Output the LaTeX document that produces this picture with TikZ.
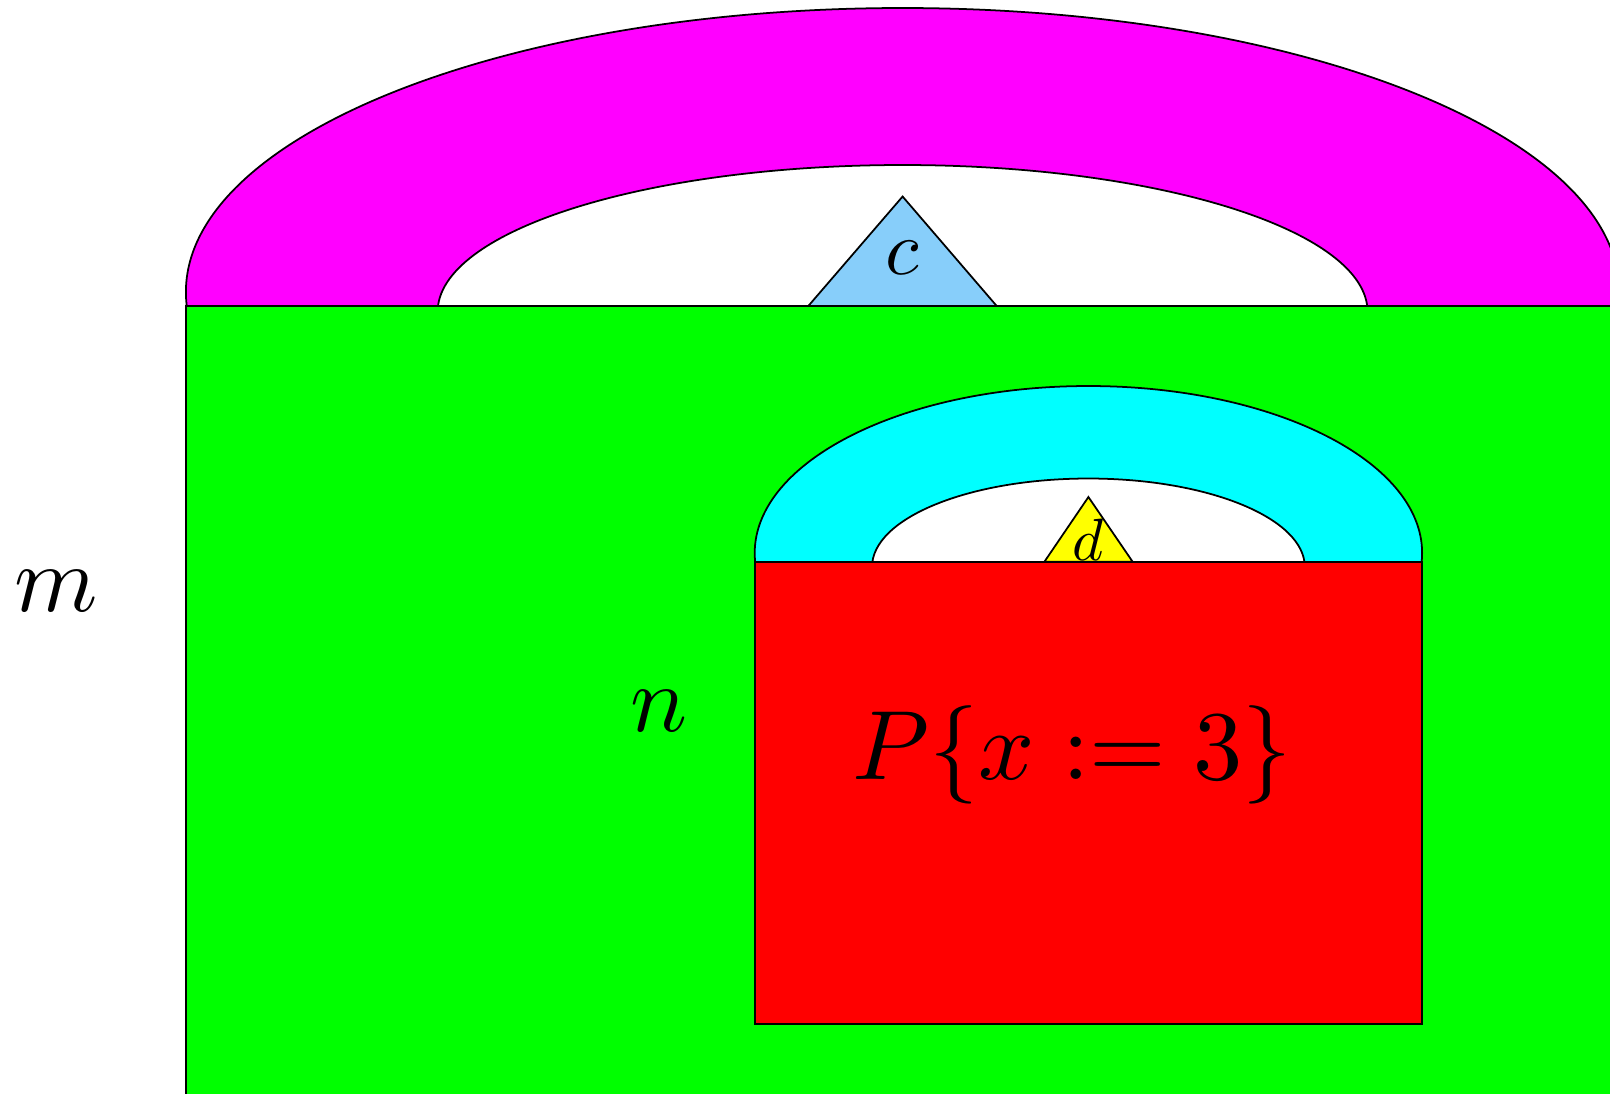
\documentclass[tikz,border=0pt]{standalone}
\usepackage{tikz}
\definecolor{bigcapcolor}{RGB}{255,0,255}
\definecolor{bigboxcolor}{RGB}{0,255,0}
\definecolor{bigtipcolor}{RGB}{135,206,250}
\definecolor{smallcapcolor}{RGB}{0,255,255}
\definecolor{smallboxcolor}{RGB}{255,0,0}
\definecolor{smalltipcolor}{RGB}{255,255,0}
\tikzset{
region/.style={
  draw=black,
  line width=0.5pt
},
hole/.style={
  region,
  fill=white
},
mathlabel/.style={
  inner sep=0pt,
  text=black
},
biglabel/.style={
  mathlabel,
  scale=2.7
}
}

\begin{document}
\begin{tikzpicture}[x=0.01cm,y=-0.01cm]
  \useasboundingbox (0,0) rectangle (1610,1093);
  \clip (0,0) rectangle (1610,1093);
  % outer cap
  \begin{scope}
    \clip (0,0) rectangle (1610,306);
    \draw[region, fill=bigcapcolor] (902.6,292) ellipse [x radius=716.7, y radius=284];
    \draw[hole] (902.6,312) ellipse [x radius=465, y radius=147];
  \end{scope}
  \draw[region, fill=bigtipcolor] (808.3,306) -- (902.6,196.5) -- (996.7,306) -- cycle;
  \draw[region, fill=bigboxcolor] (186,306) rectangle (1700,1200);
  % inner cap
  \begin{scope}
    \clip (0,0) rectangle (1610,561.7);
    \draw[region, fill=smallcapcolor] (1088.4,553) ellipse [x radius=333.7, y radius=167];
    \draw[hole] (1088.4,567) ellipse [x radius=216.4, y radius=88.5];
  \end{scope}
  \draw[region, fill=smalltipcolor] (1044.4,561.7) -- (1088.4,497) -- (1132.6,561.7) -- cycle;
  \draw[region, fill=smallboxcolor] (754.7,561.7) rectangle (1422.1,1023.7);
  % labels
  \node[biglabel] (labm) at (56.5,591.5) {$m$};
  \node[biglabel] (labn) at (659,711.5) {$n$};
  \node[mathlabel, scale=2.8] (labp) at (1072,755) {$P\{x:=3\}$};
  \node[mathlabel, scale=2.2] (labc) at (902.6,258) {$c$};
  \node[mathlabel, scale=1.7] (labd) at (1088.4,540) {$d$};
\end{tikzpicture}
\end{document}
